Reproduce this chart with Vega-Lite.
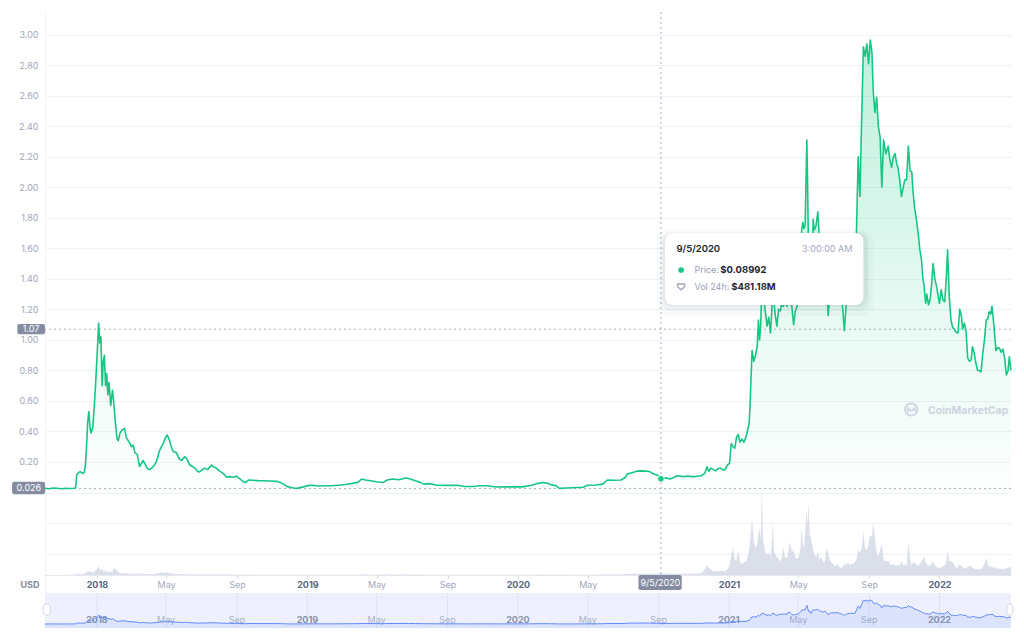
{
"$schema":"https://vega.github.io/schema/vega-lite/v6.json",
"width":966,"height":616,
"autosize":{"type":"none"},
"padding":{"left":45,"top":12,"right":13,"bottom":12},
"background":"#ffffff",
"config":{"font":"Inter","view":{"stroke":null},"axis":{"labelFont":"Inter","labelOverlap":false},"axisY":{"labelOverlap":false},"scale":{"zero":false}},
"datasets":{
"price":[
{"d":"2017-10-03","p":0.027,"v":0.02},{"d":"2017-10-10","p":0.025,"v":0.02},{"d":"2017-10-17","p":0.030,"v":0.03},{"d":"2017-10-24","p":0.028,"v":0.02},{"d":"2017-10-31","p":0.025,"v":0.02},{"d":"2017-11-07","p":0.027,"v":0.03},{"d":"2017-11-14","p":0.026,"v":0.02},{"d":"2017-11-21","p":0.028,"v":0.03},{"d":"2017-11-25","p":0.030,"v":0.05},{"d":"2017-11-27","p":0.115,"v":0.25},{"d":"2017-11-30","p":0.130,"v":0.2},{"d":"2017-12-03","p":0.137,"v":0.15},{"d":"2017-12-07","p":0.125,"v":0.15},{"d":"2017-12-10","p":0.130,"v":0.2},{"d":"2017-12-12","p":0.180,"v":0.4},{"d":"2017-12-14","p":0.30,"v":0.6},{"d":"2017-12-16","p":0.46,"v":0.8},{"d":"2017-12-18","p":0.53,"v":0.9},{"d":"2017-12-20","p":0.43,"v":0.7},{"d":"2017-12-22","p":0.39,"v":0.8},{"d":"2017-12-25","p":0.43,"v":0.5},{"d":"2017-12-28","p":0.60,"v":0.9},{"d":"2017-12-30","p":0.73,"v":1.1},
{"d":"2018-01-02","p":0.95,"v":1.4},{"d":"2018-01-04","p":1.11,"v":2.0},{"d":"2018-01-06","p":0.98,"v":1.3},{"d":"2018-01-08","p":1.02,"v":1.0},{"d":"2018-01-10","p":0.70,"v":1.5},{"d":"2018-01-12","p":0.86,"v":0.9},{"d":"2018-01-14","p":0.90,"v":0.7},{"d":"2018-01-16","p":0.70,"v":1.2},{"d":"2018-01-18","p":0.78,"v":0.8},{"d":"2018-01-20","p":0.64,"v":0.6},{"d":"2018-01-22","p":0.72,"v":0.7},{"d":"2018-01-25","p":0.57,"v":0.6},{"d":"2018-01-28","p":0.67,"v":0.8},{"d":"2018-01-30","p":0.60,"v":1.6},{"d":"2018-02-02","p":0.46,"v":1.2},{"d":"2018-02-05","p":0.35,"v":1.0},{"d":"2018-02-07","p":0.34,"v":0.6},{"d":"2018-02-10","p":0.39,"v":0.4},{"d":"2018-02-14","p":0.41,"v":0.4},{"d":"2018-02-18","p":0.42,"v":0.3},{"d":"2018-02-21","p":0.36,"v":0.4},{"d":"2018-02-26","p":0.33,"v":0.3},{"d":"2018-03-02","p":0.30,"v":0.25},{"d":"2018-03-05","p":0.31,"v":0.2},{"d":"2018-03-08","p":0.26,"v":0.3},{"d":"2018-03-12","p":0.25,"v":0.25},{"d":"2018-03-16","p":0.17,"v":0.35},{"d":"2018-03-19","p":0.19,"v":0.2},{"d":"2018-03-22","p":0.21,"v":0.25},{"d":"2018-03-25","p":0.19,"v":0.2},{"d":"2018-03-29","p":0.16,"v":0.2},{"d":"2018-04-02","p":0.15,"v":0.15},{"d":"2018-04-06","p":0.16,"v":0.15},{"d":"2018-04-11","p":0.18,"v":0.2},{"d":"2018-04-15","p":0.21,"v":0.3},{"d":"2018-04-19","p":0.27,"v":0.5},{"d":"2018-04-23","p":0.30,"v":0.6},{"d":"2018-04-26","p":0.32,"v":0.4},{"d":"2018-04-30","p":0.36,"v":0.5},{"d":"2018-05-03","p":0.377,"v":0.6},{"d":"2018-05-07","p":0.34,"v":0.4},{"d":"2018-05-10","p":0.30,"v":0.3},{"d":"2018-05-13","p":0.27,"v":0.35},{"d":"2018-05-19","p":0.26,"v":0.2},{"d":"2018-05-24","p":0.22,"v":0.2},{"d":"2018-05-28","p":0.21,"v":0.15},{"d":"2018-06-02","p":0.235,"v":0.2},{"d":"2018-06-06","p":0.22,"v":0.15},{"d":"2018-06-11","p":0.18,"v":0.15},{"d":"2018-06-16","p":0.17,"v":0.1},{"d":"2018-06-20","p":0.16,"v":0.1},{"d":"2018-06-24","p":0.14,"v":0.12},{"d":"2018-06-28","p":0.135,"v":0.1},{"d":"2018-07-03","p":0.15,"v":0.1},{"d":"2018-07-07","p":0.16,"v":0.1},{"d":"2018-07-12","p":0.15,"v":0.08},{"d":"2018-07-19","p":0.18,"v":0.12},{"d":"2018-07-23","p":0.165,"v":0.1},{"d":"2018-07-27","p":0.16,"v":0.1},{"d":"2018-08-02","p":0.14,"v":0.08},{"d":"2018-08-08","p":0.125,"v":0.1},{"d":"2018-08-14","p":0.10,"v":0.12},{"d":"2018-08-19","p":0.104,"v":0.08},{"d":"2018-08-25","p":0.10,"v":0.06},{"d":"2018-08-31","p":0.108,"v":0.07},{"d":"2018-09-06","p":0.09,"v":0.08},{"d":"2018-09-12","p":0.07,"v":0.06},{"d":"2018-09-16","p":0.066,"v":0.05},{"d":"2018-09-21","p":0.082,"v":0.08},{"d":"2018-09-28","p":0.080,"v":0.05},{"d":"2018-10-07","p":0.078,"v":0.04},{"d":"2018-10-17","p":0.077,"v":0.04},{"d":"2018-10-27","p":0.075,"v":0.03},{"d":"2018-11-09","p":0.073,"v":0.04},{"d":"2018-11-15","p":0.065,"v":0.05},{"d":"2018-11-21","p":0.055,"v":0.06},{"d":"2018-11-26","p":0.040,"v":0.05},{"d":"2018-12-02","p":0.035,"v":0.04},{"d":"2018-12-08","p":0.030,"v":0.03},{"d":"2018-12-13","p":0.026,"v":0.03},{"d":"2018-12-19","p":0.032,"v":0.04},{"d":"2018-12-25","p":0.037,"v":0.04},
{"d":"2019-01-02","p":0.045,"v":0.04},{"d":"2019-01-09","p":0.048,"v":0.04},{"d":"2019-01-20","p":0.043,"v":0.03},{"d":"2019-02-01","p":0.044,"v":0.03},{"d":"2019-02-12","p":0.044,"v":0.03},{"d":"2019-02-25","p":0.048,"v":0.04},{"d":"2019-03-08","p":0.052,"v":0.04},{"d":"2019-03-20","p":0.060,"v":0.05},{"d":"2019-03-30","p":0.068,"v":0.05},{"d":"2019-04-05","p":0.088,"v":0.1},{"d":"2019-04-12","p":0.082,"v":0.08},{"d":"2019-04-20","p":0.077,"v":0.06},{"d":"2019-05-01","p":0.070,"v":0.05},{"d":"2019-05-13","p":0.066,"v":0.08},{"d":"2019-05-18","p":0.080,"v":0.1},{"d":"2019-05-28","p":0.088,"v":0.09},{"d":"2019-06-08","p":0.084,"v":0.06},{"d":"2019-06-21","p":0.095,"v":0.08},{"d":"2019-06-27","p":0.090,"v":0.1},{"d":"2019-07-07","p":0.077,"v":0.07},{"d":"2019-07-15","p":0.068,"v":0.08},{"d":"2019-07-22","p":0.055,"v":0.06},{"d":"2019-08-01","p":0.058,"v":0.05},{"d":"2019-08-14","p":0.048,"v":0.04},{"d":"2019-09-01","p":0.047,"v":0.03},{"d":"2019-09-18","p":0.048,"v":0.04},{"d":"2019-09-30","p":0.039,"v":0.04},{"d":"2019-10-15","p":0.039,"v":0.03},{"d":"2019-10-27","p":0.044,"v":0.04},{"d":"2019-11-08","p":0.044,"v":0.04},{"d":"2019-11-25","p":0.036,"v":0.04},{"d":"2019-12-16","p":0.037,"v":0.03},
{"d":"2020-01-09","p":0.037,"v":0.04},{"d":"2020-01-25","p":0.048,"v":0.05},{"d":"2020-02-05","p":0.060,"v":0.07},{"d":"2020-02-13","p":0.066,"v":0.08},{"d":"2020-02-22","p":0.060,"v":0.06},{"d":"2020-02-28","p":0.050,"v":0.06},{"d":"2020-03-07","p":0.045,"v":0.05},{"d":"2020-03-13","p":0.027,"v":0.08},{"d":"2020-03-25","p":0.030,"v":0.05},{"d":"2020-04-11","p":0.033,"v":0.05},{"d":"2020-04-23","p":0.034,"v":0.05},{"d":"2020-05-01","p":0.048,"v":0.07},{"d":"2020-05-15","p":0.049,"v":0.06},{"d":"2020-05-27","p":0.055,"v":0.08},{"d":"2020-06-04","p":0.082,"v":0.15},{"d":"2020-06-15","p":0.080,"v":0.12},{"d":"2020-06-28","p":0.082,"v":0.1},{"d":"2020-07-05","p":0.098,"v":0.15},{"d":"2020-07-09","p":0.122,"v":0.2},{"d":"2020-07-17","p":0.130,"v":0.25},{"d":"2020-07-25","p":0.140,"v":0.3},{"d":"2020-08-02","p":0.142,"v":0.3},{"d":"2020-08-09","p":0.140,"v":0.28},{"d":"2020-08-16","p":0.138,"v":0.25},{"d":"2020-08-21","p":0.126,"v":0.3},{"d":"2020-09-01","p":0.110,"v":0.35},{"d":"2020-09-05","p":0.08992,"v":0.48},{"d":"2020-09-12","p":0.096,"v":0.3},{"d":"2020-09-21","p":0.088,"v":0.35},{"d":"2020-09-27","p":0.098,"v":0.3},{"d":"2020-10-03","p":0.110,"v":0.3},{"d":"2020-10-14","p":0.104,"v":0.28},{"d":"2020-10-22","p":0.108,"v":0.3},{"d":"2020-10-29","p":0.104,"v":0.3},{"d":"2020-11-06","p":0.106,"v":0.35},{"d":"2020-11-14","p":0.110,"v":0.4},{"d":"2020-11-20","p":0.125,"v":1.2},{"d":"2020-11-24","p":0.168,"v":2.2},{"d":"2020-11-27","p":0.140,"v":1.5},{"d":"2020-12-01","p":0.160,"v":1.3},{"d":"2020-12-05","p":0.150,"v":0.8},{"d":"2020-12-09","p":0.142,"v":0.9},{"d":"2020-12-13","p":0.155,"v":0.7},{"d":"2020-12-17","p":0.160,"v":1.0},{"d":"2020-12-21","p":0.150,"v":0.9},{"d":"2020-12-25","p":0.148,"v":0.8},{"d":"2020-12-29","p":0.180,"v":1.3},
{"d":"2021-01-02","p":0.190,"v":2.0},{"d":"2021-01-05","p":0.320,"v":4.5},{"d":"2021-01-08","p":0.300,"v":6.2},{"d":"2021-01-11","p":0.290,"v":3.5},{"d":"2021-01-14","p":0.360,"v":3.2},{"d":"2021-01-17","p":0.380,"v":5.6},{"d":"2021-01-20","p":0.330,"v":3.0},{"d":"2021-01-23","p":0.350,"v":2.4},{"d":"2021-01-27","p":0.330,"v":2.8},{"d":"2021-01-31","p":0.370,"v":3.0},{"d":"2021-02-03","p":0.420,"v":4.5},{"d":"2021-02-05","p":0.450,"v":5.5},{"d":"2021-02-07","p":0.620,"v":8.0},{"d":"2021-02-10","p":0.930,"v":12.7},{"d":"2021-02-13","p":0.860,"v":7.5},{"d":"2021-02-16","p":0.900,"v":6.0},{"d":"2021-02-19","p":0.960,"v":7.0},{"d":"2021-02-21","p":1.130,"v":9.0},{"d":"2021-02-23","p":1.000,"v":10.5},{"d":"2021-02-25","p":1.100,"v":8.0},{"d":"2021-02-27","p":1.350,"v":19.0},{"d":"2021-03-01","p":1.300,"v":8.0},{"d":"2021-03-04","p":1.220,"v":5.5},{"d":"2021-03-08","p":1.090,"v":4.5},{"d":"2021-03-11","p":1.150,"v":5.0},{"d":"2021-03-14","p":1.045,"v":4.0},{"d":"2021-03-16","p":1.180,"v":6.5},{"d":"2021-03-18","p":1.400,"v":11.6},{"d":"2021-03-20","p":1.250,"v":5.5},{"d":"2021-03-22","p":1.170,"v":4.8},{"d":"2021-03-25","p":1.090,"v":4.0},{"d":"2021-03-28","p":1.200,"v":3.5},{"d":"2021-03-31","p":1.190,"v":3.0},{"d":"2021-04-03","p":1.250,"v":4.0},{"d":"2021-04-05","p":1.220,"v":6.2},{"d":"2021-04-08","p":1.250,"v":4.0},{"d":"2021-04-12","p":1.220,"v":3.8},{"d":"2021-04-14","p":1.480,"v":5.5},{"d":"2021-04-17","p":1.400,"v":7.4},{"d":"2021-04-20","p":1.220,"v":5.0},{"d":"2021-04-23","p":1.100,"v":5.5},{"d":"2021-04-26","p":1.190,"v":4.0},{"d":"2021-04-29","p":1.220,"v":3.5},{"d":"2021-05-02","p":1.300,"v":4.0},{"d":"2021-05-05","p":1.500,"v":6.0},{"d":"2021-05-07","p":1.720,"v":10.7},{"d":"2021-05-09","p":1.770,"v":7.0},{"d":"2021-05-11","p":1.730,"v":6.0},{"d":"2021-05-13","p":1.750,"v":9.0},{"d":"2021-05-16","p":2.310,"v":15.0},{"d":"2021-05-17","p":2.100,"v":11.0},{"d":"2021-05-19","p":1.550,"v":16.0},{"d":"2021-05-21","p":1.600,"v":9.0},{"d":"2021-05-23","p":1.300,"v":8.5},{"d":"2021-05-25","p":1.500,"v":7.0},{"d":"2021-05-27","p":1.790,"v":5.5},{"d":"2021-05-29","p":1.720,"v":4.5},{"d":"2021-06-01","p":1.750,"v":4.0},{"d":"2021-06-04","p":1.840,"v":5.0},{"d":"2021-06-07","p":1.650,"v":3.5},{"d":"2021-06-10","p":1.550,"v":4.0},{"d":"2021-06-13","p":1.480,"v":3.0},{"d":"2021-06-16","p":1.580,"v":2.8},{"d":"2021-06-19","p":1.450,"v":6.0},{"d":"2021-06-22","p":1.160,"v":5.0},{"d":"2021-06-25","p":1.300,"v":3.2},{"d":"2021-06-28","p":1.420,"v":2.8},{"d":"2021-07-02","p":1.380,"v":2.2},{"d":"2021-07-05","p":1.400,"v":2.0},{"d":"2021-07-08","p":1.420,"v":2.5},{"d":"2021-07-11","p":1.330,"v":1.8},{"d":"2021-07-14","p":1.270,"v":1.6},{"d":"2021-07-17","p":1.220,"v":1.8},{"d":"2021-07-20","p":1.060,"v":2.6},{"d":"2021-07-23","p":1.220,"v":2.0},{"d":"2021-07-26","p":1.300,"v":2.8},{"d":"2021-07-29","p":1.330,"v":2.2},{"d":"2021-08-01","p":1.330,"v":2.5},{"d":"2021-08-04","p":1.350,"v":2.4},{"d":"2021-08-07","p":1.280,"v":2.8},{"d":"2021-08-10","p":1.700,"v":3.5},{"d":"2021-08-13","p":2.200,"v":5.5},{"d":"2021-08-16","p":1.940,"v":5.0},{"d":"2021-08-19","p":2.440,"v":6.0},{"d":"2021-08-22","p":2.920,"v":9.6},{"d":"2021-08-25","p":2.860,"v":6.0},{"d":"2021-08-28","p":2.940,"v":5.5},{"d":"2021-08-31","p":2.810,"v":7.0},{"d":"2021-09-03","p":2.965,"v":9.0},{"d":"2021-09-06","p":2.880,"v":8.5},{"d":"2021-09-08","p":2.640,"v":11.8},{"d":"2021-09-11","p":2.490,"v":8.5},{"d":"2021-09-14","p":2.590,"v":5.0},{"d":"2021-09-17","p":2.400,"v":4.0},{"d":"2021-09-20","p":2.330,"v":5.5},{"d":"2021-09-23","p":2.000,"v":7.0},{"d":"2021-09-26","p":2.310,"v":3.5},{"d":"2021-09-30","p":2.220,"v":3.0},{"d":"2021-10-04","p":2.270,"v":3.2},{"d":"2021-10-07","p":2.180,"v":2.5},{"d":"2021-10-10","p":2.130,"v":2.2},{"d":"2021-10-13","p":2.200,"v":2.5},{"d":"2021-10-16","p":2.220,"v":2.2},{"d":"2021-10-19","p":2.150,"v":2.0},{"d":"2021-10-21","p":2.130,"v":2.4},{"d":"2021-10-24","p":2.050,"v":2.0},{"d":"2021-10-27","p":1.940,"v":3.0},{"d":"2021-10-30","p":2.000,"v":2.2},{"d":"2021-11-02","p":2.050,"v":2.4},{"d":"2021-11-05","p":2.050,"v":2.0},{"d":"2021-11-08","p":2.270,"v":7.4},{"d":"2021-11-11","p":2.110,"v":3.5},{"d":"2021-11-14","p":2.100,"v":2.2},{"d":"2021-11-16","p":1.980,"v":3.0},{"d":"2021-11-19","p":1.860,"v":2.6},{"d":"2021-11-22","p":1.790,"v":2.4},{"d":"2021-11-25","p":1.700,"v":2.0},{"d":"2021-11-28","p":1.590,"v":2.5},{"d":"2021-12-01","p":1.520,"v":3.0},{"d":"2021-12-03","p":1.410,"v":3.5},{"d":"2021-12-05","p":1.360,"v":4.0},{"d":"2021-12-08","p":1.240,"v":2.8},{"d":"2021-12-10","p":1.300,"v":2.5},{"d":"2021-12-13","p":1.230,"v":2.0},{"d":"2021-12-16","p":1.270,"v":2.2},{"d":"2021-12-18","p":1.350,"v":2.5},{"d":"2021-12-21","p":1.500,"v":3.0},{"d":"2021-12-24","p":1.400,"v":2.2},{"d":"2021-12-27","p":1.350,"v":1.8},{"d":"2021-12-30","p":1.280,"v":1.6},
{"d":"2022-01-01","p":1.240,"v":1.5},{"d":"2022-01-04","p":1.330,"v":1.8},{"d":"2022-01-07","p":1.260,"v":2.0},{"d":"2022-01-10","p":1.250,"v":2.2},{"d":"2022-01-13","p":1.420,"v":3.0},{"d":"2022-01-15","p":1.590,"v":5.6},{"d":"2022-01-18","p":1.280,"v":3.0},{"d":"2022-01-21","p":1.130,"v":3.2},{"d":"2022-01-24","p":1.080,"v":2.8},{"d":"2022-01-27","p":1.070,"v":2.2},{"d":"2022-01-30","p":1.050,"v":1.6},{"d":"2022-02-02","p":1.045,"v":1.8},{"d":"2022-02-05","p":1.200,"v":2.5},{"d":"2022-02-08","p":1.160,"v":2.0},{"d":"2022-02-10","p":1.070,"v":1.8},{"d":"2022-02-13","p":1.110,"v":1.5},{"d":"2022-02-16","p":1.060,"v":1.4},{"d":"2022-02-19","p":0.880,"v":1.8},{"d":"2022-02-22","p":0.860,"v":2.0},{"d":"2022-02-25","p":0.870,"v":1.9},{"d":"2022-02-27","p":0.955,"v":1.6},{"d":"2022-03-02","p":0.920,"v":1.5},{"d":"2022-03-05","p":0.850,"v":1.2},{"d":"2022-03-08","p":0.800,"v":1.3},{"d":"2022-03-11","p":0.800,"v":1.4},{"d":"2022-03-14","p":0.790,"v":1.2},{"d":"2022-03-17","p":0.910,"v":1.8},{"d":"2022-03-20","p":1.000,"v":2.5},{"d":"2022-03-23","p":1.130,"v":3.8},{"d":"2022-03-26","p":1.140,"v":2.2},{"d":"2022-03-28","p":1.185,"v":2.0},{"d":"2022-03-31","p":1.170,"v":1.8},{"d":"2022-04-02","p":1.220,"v":1.9},{"d":"2022-04-04","p":1.150,"v":1.6},{"d":"2022-04-06","p":1.065,"v":1.7},{"d":"2022-04-09","p":0.930,"v":1.4},{"d":"2022-04-12","p":0.950,"v":1.5},{"d":"2022-04-15","p":0.945,"v":1.2},{"d":"2022-04-18","p":0.920,"v":1.3},{"d":"2022-04-21","p":0.940,"v":1.4},{"d":"2022-04-24","p":0.880,"v":1.2},{"d":"2022-04-27","p":0.770,"v":1.6},{"d":"2022-04-30","p":0.800,"v":1.5},{"d":"2022-05-02","p":0.890,"v":1.8},{"d":"2022-05-05","p":0.800,"v":1.6}
],
"ticks":[
{"d":"2018-01-01","t":"2018","yr":1},{"d":"2018-05-01","t":"May","yr":0},{"d":"2018-09-01","t":"Sep","yr":0},{"d":"2019-01-01","t":"2019","yr":1},{"d":"2019-05-01","t":"May","yr":0},{"d":"2019-09-01","t":"Sep","yr":0},{"d":"2020-01-01","t":"2020","yr":1},{"d":"2020-05-01","t":"May","yr":0},{"d":"2020-09-01","t":"Sep","yr":0},{"d":"2021-01-01","t":"2021","yr":1},{"d":"2021-05-01","t":"May","yr":0},{"d":"2021-09-01","t":"Sep","yr":0},{"d":"2022-01-01","t":"2022","yr":1}
]
},
"layer":[
{"data":{"name":"price"},
 "mark":{"type":"area","color":"#d3d9e6","opacity":0.85},
 "encoding":{"x":{"field":"d","type":"temporal","title":null},
  "y":{"field":"v","type":"quantitative","scale":{"domain":[-11.85,125.8],"nice":false,"zero":false},"axis":null},
  "y2":{"datum":0}}},
{"layer":[
 {"data":{"name":"price"},
  "mark":{"type":"area","color":{"gradient":"linear","x1":0,"y1":0,"x2":0,"y2":1,"stops":[{"offset":0,"color":"rgba(22,199,132,0.28)"},{"offset":0.6,"color":"rgba(22,199,132,0.10)"},{"offset":1,"color":"rgba(22,199,132,0.01)"}]}},
  "encoding":{
   "x":{"field":"d","type":"temporal","title":null,
    "scale":{"domain":[{"year":2017,"month":10,"date":3},{"year":2022,"month":5,"date":5}],"nice":false},
    "axis":{"values":[{"year":2018,"month":1,"date":1},{"year":2018,"month":5,"date":1},{"year":2018,"month":9,"date":1},{"year":2019,"month":1,"date":1},{"year":2019,"month":5,"date":1},{"year":2019,"month":9,"date":1},{"year":2020,"month":1,"date":1},{"year":2020,"month":5,"date":1},{"year":2021,"month":1,"date":1},{"year":2021,"month":5,"date":1},{"year":2021,"month":9,"date":1},{"year":2022,"month":1,"date":1}],
     "tickCount":40,
     "labelExpr":"month(datum.value)==0 ? timeFormat(datum.value,'%Y') : timeFormat(datum.value,'%b')",
     "labelFontWeight":{"condition":{"test":"month(datum.value)==0","value":"bold"},"value":"normal"},
     "labelColor":{"condition":{"test":"month(datum.value)==0","value":"#58667e"},"value":"#a1a7bb"},
     "grid":false,"orient":"bottom","offset":-53,"domainColor":"#e6e9ef","tickColor":"#cfd6e4","tickSize":3,"labelPadding":2,"labelFontSize":9,"labelFlush":false,"labelOverlap":false,"title":null}},
   "y":{"field":"p","type":"quantitative","title":null,"scale":{"domain":[-0.888,3.149],"nice":false,"zero":false},
    "axis":{"orient":"left","values":[-0.4,-0.2,0,0.2,0.4,0.6,0.8,1,1.2,1.4,1.6,1.8,2,2.2,2.4,2.6,2.8,3],"tickCount":40,"labelExpr":"datum.value > 0.1 ? format(datum.value, '.2f') : ''","grid":true,"gridColor":"#eff2f5","gridWidth":1,"domain":true,"domainColor":"#eff2f5","ticks":false,"labelColor":"#a1a7bb","labelFontSize":9,"labelPadding":7,"labelFlush":false,"labelOverlap":false,"title":null}},
   "y2":{"datum":0}}},
 {"data":{"values":[{"y":1.07},{"y":0.026}]},
  "mark":{"type":"rule","color":"#a6b0c3","strokeDash":[2,3],"strokeWidth":1},
  "encoding":{"y":{"field":"y","type":"quantitative"}}},
 {"data":{"values":[{"d":"2020-09-05","a":3.149,"b":-0.5406}]},
  "mark":{"type":"rule","color":"#a6b0c3","strokeDash":[2,3],"strokeWidth":1},
  "encoding":{"x":{"field":"d","type":"temporal","title":null},"y":{"field":"a","type":"quantitative"},"y2":{"field":"b"}}},
 {"data":{"name":"price"},
  "mark":{"type":"line","color":"#16c784","strokeWidth":1.6,"strokeJoin":"round"},
  "encoding":{"x":{"field":"d","type":"temporal","title":null},"y":{"field":"p","type":"quantitative"}}},
 {"data":{"values":[{"d":"2020-09-05","p":0.08992}]},
  "mark":{"type":"point","filled":true,"size":45,"color":"#16c784","stroke":"#ffffff","strokeWidth":1,"opacity":1},
  "encoding":{"x":{"field":"d","type":"temporal","title":null},"y":{"field":"p","type":"quantitative"}}},
 {"data":{"values":[{"x1":"2020-08-29","x2":"2021-09-08","y1":1.720,"y2":1.157,"o":0.035},{"x1":"2020-09-05","x2":"2021-09-01","y1":1.707,"y2":1.189,"o":0.05},{"x1":"2020-09-08","x2":"2021-08-29","y1":1.7005,"y2":1.2156,"o":0.06}]},
  "mark":{"type":"rect","color":"#58667e","cornerRadius":10},
  "encoding":{"x":{"field":"x1","type":"temporal","title":null},"x2":{"field":"x2"},"y":{"field":"y1","type":"quantitative"},"y2":{"field":"y2"},"opacity":{"field":"o","type":"quantitative","scale":null}}},
 {"data":{"values":[{"x1":"2020-09-12","x2":"2021-08-22","y1":1.7005,"y2":1.2287}]},
  "mark":{"type":"rect","color":"#ffffff","cornerRadius":8,"opacity":1},
  "encoding":{"x":{"field":"x1","type":"temporal","title":null},"x2":{"field":"x2"},"y":{"field":"y1","type":"quantitative"},"y2":{"field":"y2"}}},
 {"data":{"values":[{"d":"2020-10-02","p":1.596,"t":"9/5/2020"}]},
  "mark":{"type":"text","align":"left","baseline":"middle","fontSize":9.5,"fontWeight":600,"color":"#222531"},
  "encoding":{"x":{"field":"d","type":"temporal","title":null},"y":{"field":"p","type":"quantitative"},"text":{"field":"t"}}},
 {"data":{"values":[{"d":"2020-12-17","p":1.458,"t":"$0.08992"},{"d":"2021-01-05","p":1.349,"t":"$481.18M"}]},
  "mark":{"type":"text","align":"left","baseline":"middle","fontSize":9.5,"fontWeight":700,"color":"#222531"},
  "encoding":{"x":{"field":"d","type":"temporal","title":null},"y":{"field":"p","type":"quantitative"},"text":{"field":"t"}}},
 {"data":{"values":[{"d":"2020-11-02","p":1.458,"t":"Price:"},{"d":"2020-11-02","p":1.349,"t":"Vol 24h:"}]},
  "mark":{"type":"text","align":"left","baseline":"middle","fontSize":9,"color":"#98a0b4"},
  "encoding":{"x":{"field":"d","type":"temporal","title":null},"y":{"field":"p","type":"quantitative"},"text":{"field":"t"}}},
 {"data":{"values":[{"d":"2021-08-03","p":1.596,"t":"3:00:00 AM"}]},
  "mark":{"type":"text","align":"right","baseline":"middle","fontSize":9,"color":"#a1a7bb"},
  "encoding":{"x":{"field":"d","type":"temporal","title":null},"y":{"field":"p","type":"quantitative"},"text":{"field":"t"}}},
 {"data":{"values":[{"d":"2020-10-10","p":1.458}]},
  "mark":{"type":"point","filled":true,"size":32,"color":"#16c784","opacity":1},
  "encoding":{"x":{"field":"d","type":"temporal","title":null},"y":{"field":"p","type":"quantitative"}}},
 {"data":{"values":[{"d":"2020-10-10","p":1.349}]},
  "mark":{"type":"point","filled":false,"size":60,"shape":"M-0.9,-0.7L0.9,-0.7L0.9,0L0,0.8L-0.9,0Z","color":"#a1a7bb","strokeWidth":1.4,"opacity":1},
  "encoding":{"x":{"field":"d","type":"temporal","title":null},"y":{"field":"p","type":"quantitative"}}},
 {"data":{"values":[{"x1":"2017-08-16","x2":"2017-10-03","y1":1.104,"y2":1.037},{"x1":"2017-08-07","x2":"2017-10-03","y1":0.0708,"y2":-0.0118},{"x1":"2020-07-28","x2":"2020-10-11","y1":-0.5406,"y2":-0.639}]},
  "mark":{"type":"rect","color":"#858ca2","cornerRadius":2,"opacity":1},
  "encoding":{"x":{"field":"x1","type":"temporal","title":null},"x2":{"field":"x2"},"y":{"field":"y1","type":"quantitative"},"y2":{"field":"y2"}}},
 {"data":{"values":[{"d":"2017-09-09","p":1.07,"t":"1.07"},{"d":"2017-09-05","p":0.0295,"t":"0.026"},{"d":"2020-09-04","p":-0.59,"t":"9/5/2020"}]},
  "mark":{"type":"text","align":"center","baseline":"middle","fontSize":9,"color":"#ffffff"},
  "encoding":{"x":{"field":"d","type":"temporal","title":null},"y":{"field":"p","type":"quantitative"},"text":{"field":"t"}}},
 {"data":{"values":[{"d":"2017-09-07","p":-0.603,"t":"USD"}]},
  "mark":{"type":"text","align":"center","baseline":"middle","fontSize":9,"fontWeight":"bold","color":"#808a9d"},
  "encoding":{"x":{"field":"d","type":"temporal","title":null},"y":{"field":"p","type":"quantitative"},"text":{"field":"t"}}},
 {"data":{"values":[{"x1":"2017-10-03","x2":"2022-05-05","y1":-0.6586,"y2":-0.888}]},
  "mark":{"type":"rect","color":"#eef1fd","opacity":1},
  "encoding":{"x":{"field":"x1","type":"temporal","title":null},"x2":{"field":"x2"},"y":{"field":"y1","type":"quantitative"},"y2":{"field":"y2"}}},
 {"data":{"name":"ticks"},
  "mark":{"type":"rule","color":"#dde3f6","strokeWidth":1},
  "encoding":{"x":{"field":"d","type":"temporal","title":null},"y":{"datum":-0.6586},"y2":{"datum":-0.888}}},
 {"data":{"name":"ticks"},"transform":[{"filter":"datum.yr == 1"}],
  "mark":{"type":"text","align":"center","baseline":"middle","fontSize":9,"fontWeight":"bold","color":"#8a92a6"},
  "encoding":{"x":{"field":"d","type":"temporal","title":null},"y":{"datum":-0.8355},"text":{"field":"t"}}},
 {"data":{"name":"ticks"},"transform":[{"filter":"datum.yr == 0"}],
  "mark":{"type":"text","align":"center","baseline":"middle","fontSize":9,"color":"#a9b0c4"},
  "encoding":{"x":{"field":"d","type":"temporal","title":null},"y":{"datum":-0.8355},"text":{"field":"t"}}},
 {"data":{"values":[{"x1":"2017-09-30","x2":"2017-10-12","y1":-0.7307,"y2":-0.803},{"x1":"2022-04-28","x2":"2022-05-08","y1":-0.7307,"y2":-0.803}]},
  "mark":{"type":"rect","color":"#ffffff","stroke":"#cfd6e4","strokeWidth":1,"cornerRadius":3,"opacity":1},
  "encoding":{"x":{"field":"x1","type":"temporal","title":null},"x2":{"field":"x2"},"y":{"field":"y1","type":"quantitative"},"y2":{"field":"y2"}}},
 {"data":{"values":[{"d":"2021-11-13","p":0.544}]},
  "mark":{"type":"point","filled":false,"size":150,"shape":"circle","color":"#cfd3e0","strokeWidth":1.8,"opacity":1},
  "encoding":{"x":{"field":"d","type":"temporal","title":null},"y":{"field":"p","type":"quantitative"}}},
 {"data":{"values":[{"d":"2021-11-13","p":0.544}]},
  "mark":{"type":"point","filled":false,"size":150,"shape":"M-0.55,0.35L-0.55,-0.25L0,0.25L0.55,-0.25L0.55,0.35","color":"#cfd3e0","strokeWidth":1.6,"opacity":1},
  "encoding":{"x":{"field":"d","type":"temporal","title":null},"y":{"field":"p","type":"quantitative"}}},
 {"data":{"values":[{"d":"2021-12-12","p":0.537,"t":"CoinMarketCap"}]},
  "mark":{"type":"text","align":"left","baseline":"middle","fontSize":10.5,"fontWeight":"bold","color":"#cfd3e0"},
  "encoding":{"x":{"field":"d","type":"temporal","title":null},"y":{"field":"p","type":"quantitative"},"text":{"field":"t"}}}
]},
{"layer":[
 {"data":{"name":"price"},
  "mark":{"type":"area","color":"#6188ff","opacity":0.13},
  "encoding":{"x":{"field":"d","type":"temporal","title":null},"y":{"field":"p","type":"quantitative","scale":{"domain":[-0.466,75],"nice":false,"zero":false},"axis":null},"y2":{"datum":-0.466}}},
 {"data":{"name":"price"},
  "mark":{"type":"line","color":"#6188ff","strokeWidth":1},
  "encoding":{"x":{"field":"d","type":"temporal","title":null},"y":{"field":"p","type":"quantitative"}}}
]}
],
"resolve":{"scale":{"y":"independent"}}
}
